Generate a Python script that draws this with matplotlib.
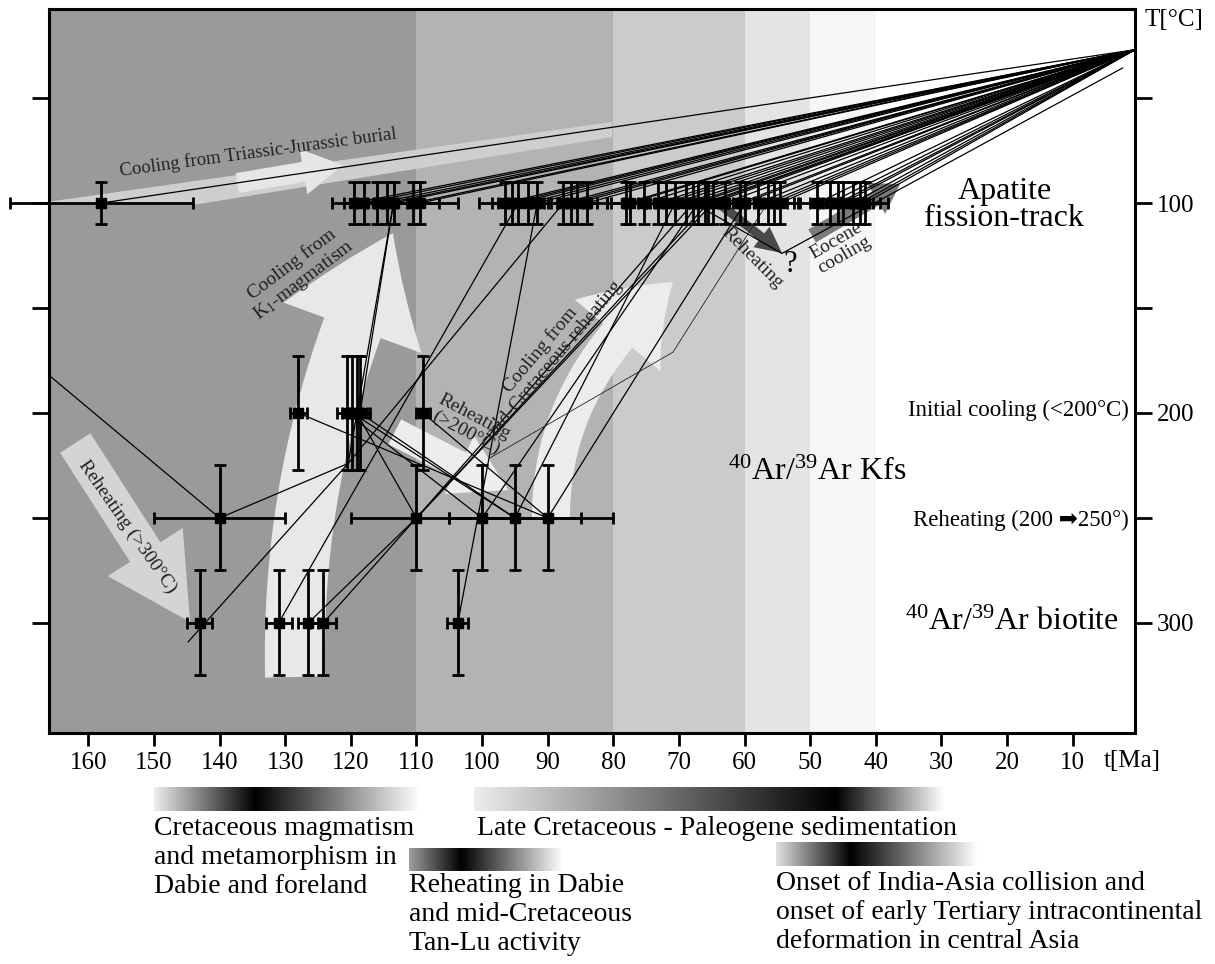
import numpy as np
import matplotlib
matplotlib.use("Agg")
import matplotlib.pyplot as plt
from matplotlib.patches import FancyArrowPatch, ArrowStyle
from matplotlib.path import Path
from matplotlib.colors import LinearSegmentedColormap

plt.rcParams['font.family'] = ['Liberation Serif', 'DejaVu Sans']
plt.rcParams['mathtext.fontset'] = 'custom'
plt.rcParams['mathtext.rm'] = 'Liberation Serif'
plt.rcParams['mathtext.it'] = 'Liberation Serif:italic'

# ---------------- data ----------------
# Apatite fission-track ages (T = 100 C)
aft_age = [158, 119.5, 118.0, 116, 114.5, 113.5, 110.5, 109.5, 96.5, 95.5,
           94.5, 93.0, 91.6, 87.6, 86.5, 85.5, 84.0, 78.0, 77.4, 75.4, 73.2,
           72.0, 70.6, 69.0, 67.8, 67.1, 66.0, 65.5, 64.8, 63.0, 60.7, 60.0,
           58.0, 56.5, 55.5, 54.6, 48.9, 47.0, 45.7, 45.0, 43.5, 42.4, 41.6]
aft_age_err = [14, 3.4, 3, 3, 3, 3, 4, 5.8, 4, 3, 3, 3, 3, 3, 3, 3, 3, 3, 3,
               3, 3, 3, 3, 3, 3, 3, 3, 3, 3, 3, 3, 3, 3, 3, 3, 3, 3, 3, 3, 3,
               3, 3, 3.5]
aft_T = [100] * len(aft_age)
aft_T_err = [10] * len(aft_age)

# 40Ar/39Ar K-feldspar, initial cooling (200 C)
kfs_cool_age = [128, 120.6, 119.8, 119.1, 118.6, 109]
kfs_cool_age_err = [1.3, 1.5, 1.5, 1.5, 1.5, 1.0]
kfs_cool_T = [200] * len(kfs_cool_age)
kfs_cool_T_err = [27] * len(kfs_cool_age)

# 40Ar/39Ar K-feldspar, reheating (250 C)
kfs_reheat_age = [140, 110, 100, 95, 90]
kfs_reheat_age_err = [10, 10, 5, 10, 10]
kfs_reheat_T = [250] * len(kfs_reheat_age)
kfs_reheat_T_err = [25] * len(kfs_reheat_age)

# 40Ar/39Ar biotite (300 C)
bio_age = [143, 131, 126.5, 124.2, 103.7]
bio_age_err = [1.9, 2, 1.5, 2, 1.6]
bio_T = [300] * len(bio_age)
bio_T_err = [25] * len(bio_age)

# present-day surface point where all paths converge
present_age = 0.5
present_T = 27

# thermal history paths (age, T)
paths = [
    [(166, 182), (140, 250), (120.4, 224), (87.6, 100)],
    [(144.8, 309), (120.4, 224), (113.5, 100)],
    [(131, 300), (94.5, 100)],
    [(126.5, 300), (110, 250), (67.8, 100)],
    [(124.2, 300), (110, 250), (65.5, 100)],
    [(103.7, 300), (91.6, 100)],
    [(128, 200), (90, 250)],
    [(119.1, 200), (110, 250), (64.8, 100)],
    [(120.6, 200), (100, 250), (67.1, 100)],
    [(119.8, 200), (95, 250), (70.6, 100)],
    [(118.6, 200), (95, 250)],
    [(109, 200), (90, 250), (60.0, 100)],
    [(118.6, 200), (113.5, 100)],
    [(67.8, 100), (54.3, 124), (2.4, 35.7)],
]
thin_paths = [
    [(98.8, 221.4), (70.9, 171), (56.5, 100)],
]

# background time bands (Ma) and grey levels
band_edges = [(166, 110), (110, 80), (80, 60), (60, 50), (50, 40)]
band_colors = ['#9a9a9a', '#b3b3b3', '#cbcbcb', '#e4e4e4', '#f6f6f6']

xticks = [160, 150, 140, 130, 120, 110, 100, 90, 80, 70, 60, 50, 40, 30, 20, 10]
yticks = [50, 100, 150, 200, 250, 300]
ytick_labels = ['', '100', '', '200', '', '300']

# ---------------- figure ----------------
W, H = 1215, 964
fig = plt.figure(figsize=(W / 100, H / 100), dpi=100)
ax = fig.add_axes([49 / W, (H - 733) / H, 1086 / W, 724 / H])
ax.set_xlim(166, 0.5)
ax.set_ylim(352.4, 7.6)

for (a, b), c in zip(band_edges, band_colors):
    ax.axvspan(b, a, color=c, lw=0, zorder=0)


def pt(px):
    return px * 72 / 100


def arrow(start, end, ctrl=None, tail=20, hw=50, hl=40, color='#e8e8e8', z=1):
    style = ArrowStyle('simple', head_length=pt(hl), head_width=pt(hw),
                       tail_width=pt(tail))
    if ctrl is None:
        ctrl = ((start[0] + end[0]) / 2, (start[1] + end[1]) / 2)
    p = Path([start, ctrl, end], [Path.MOVETO, Path.CURVE3, Path.CURVE3])
    a = FancyArrowPatch(path=p, arrowstyle=style, mutation_scale=1,
                        color=color, lw=0, zorder=z, clip_on=False)
    ax.add_patch(a)


# Triassic-Jurassic strip + arrow
strip_t = [168.6, 80.2, 80.2, 144.2]
strip_T = [100.5, 61.4, 68.6, 101.0]
ax.fill(strip_t, strip_T, color='#cfcfcf', lw=0, zorder=1, clip_on=False)
arrow((137.3, 90.5), (121.2, 81.9), tail=20, hw=46, hl=40, color='#e6e6e6')

# K1 magmatism cooling arrow (curved)
arrow((128.5, 325.7), (113.6, 114.3), ctrl=(129.3, 215.0), tail=60, hw=147,
      hl=103, color='#e8e8e8')
# mid-Cretaceous reheating cooling arrow (curved)
arrow((89.5, 249.5), (70.9, 137.6), ctrl=(89.5, 184.3), tail=38, hw=112,
      hl=77, color='#ececec')
# Reheating >300
arrow((162.0, 214.3), (144.5, 299.5), tail=36, hw=89, hl=83, color='#d4d4d4')
# Reheating >200
arrow((113.3, 209.0), (96.0, 236.7), tail=28, hw=65, hl=55, color='#ededed')
# dark Reheating ? arrow
arrow((64.0, 100.0), (54.3, 123.8), tail=9, hw=26, hl=26, color='#4a4a4a', z=2)
# Eocene cooling arrow
arrow((49.7, 115.7), (36.3, 91.0), tail=15, hw=36, hl=28, color='#7a7a7a', z=2)

# thermal paths
for p in paths:
    ts, Ts = zip(*p)
    ax.plot(ts, Ts, color='black', lw=0.9, zorder=3, clip_on=False)
for p in thin_paths:
    ts, Ts = zip(*p)
    ax.plot(ts, Ts, color='#222222', lw=0.6, zorder=3)
for a in aft_age:
    ax.plot([a, present_age], [100, present_T], color='black', lw=0.9, zorder=3)

# error bars
for ages, aerr, Ts, Terr in [(aft_age, aft_age_err, aft_T, aft_T_err),
                             (kfs_cool_age, kfs_cool_age_err, kfs_cool_T, kfs_cool_T_err),
                             (kfs_reheat_age, kfs_reheat_age_err, kfs_reheat_T, kfs_reheat_T_err),
                             (bio_age, bio_age_err, bio_T, bio_T_err)]:
    cont = ax.errorbar(ages, Ts, xerr=aerr, yerr=Terr, fmt='s', color='black',
                       ms=7, elinewidth=2.0, capsize=4.5, capthick=2.0, zorder=4)
    for ch in cont.get_children():
        ch.set_clip_on(False)

# axes styling
for s in ax.spines.values():
    s.set_linewidth(2.2)
ax.set_xticks(xticks)
ax.set_xticklabels([str(v) for v in xticks])
ax.set_yticks(yticks)
ax.set_yticklabels(ytick_labels)
ax.tick_params(axis='y', left=True, right=True, labelleft=False, labelright=True,
               direction='out', length=12, width=2.0, labelsize=18, pad=4)
ax.tick_params(axis='x', direction='out', length=9, width=2.0, labelsize=18, pad=5)

ax.text(1.009, 0.985, 'T[°C]', transform=ax.transAxes, fontsize=18,
        ha='left', va='center')
ax.text(0.971, -0.039, 't[Ma]', transform=ax.transAxes, fontsize=18,
        ha='left', va='center')

# inside labels
ax.text(20.4, 101, 'Apatite\nfission-track', fontsize=23, ha='center',
        va='center', linespacing=0.9, zorder=5)
ax.text(62.5, 231.9, r'$^{\mathrm{40}}$Ar/$^{\mathrm{39}}$Ar Kfs', fontsize=23,
        ha='left', va='baseline', zorder=5)
ax.text(3.0, 303.3, r'$^{\mathrm{40}}$Ar/$^{\mathrm{39}}$Ar biotite', fontsize=23,
        ha='right', va='baseline', zorder=5)
ax.text(1.5, 198.6, 'Initial cooling (<200°C)', fontsize=16.5, ha='right',
        va='center', zorder=5)
ax.text(1.5, 251, 'Reheating (200 \u27a1250°)', fontsize=16.5, ha='right',
        va='center', zorder=5)

ax.text(134.1, 75.7, 'Cooling from Triassic-Jurassic burial', fontsize=13.5,
        rotation=7.7, ha='center', va='center', color='#222222', zorder=5,
        rotation_mode='anchor')
ax.text(128.0, 133.3, 'Cooling from\nK$_{\\mathrm{1}}$-magmatism', fontsize=14,
        rotation=37, ha='center', va='center', color='#222222', zorder=5,
        rotation_mode='anchor', linespacing=1.0)
ax.text(154.0, 254.3, 'Reheating (>300°C)', fontsize=14, rotation=-55,
        ha='center', va='center', color='#222222', zorder=5, rotation_mode='anchor')
ax.text(101.8, 205.7, 'Reheating\n(>200°C)', fontsize=14, rotation=-28,
        ha='center', va='center', color='#222222', zorder=5,
        rotation_mode='anchor', linespacing=1.0)
ax.text(90.1, 172.4, 'Cooling from\nmid-Cretaceous reheating', fontsize=14,
        rotation=50, ha='center', va='center', color='#222222', zorder=5,
        rotation_mode='anchor', linespacing=1.0)
ax.text(58.8, 126.2, 'Reheating', fontsize=14, rotation=-45, ha='center',
        va='center', color='#222222', zorder=5, rotation_mode='anchor')
ax.text(53.0, 129.5, '?', fontsize=22, ha='center', va='center', zorder=5)
ax.text(45.4, 121.4, 'Eocene\ncooling', fontsize=14, rotation=30, ha='center',
        va='center', color='#222222', zorder=5, rotation_mode='anchor',
        linespacing=1.0)

# ---------------- bottom event bars ----------------
event_bars = [
    # x0, x1, ytop, ybottom (figure px), gradient stops (pos, grey)
    (154, 419, 787, 811, [(0, 0.93), (0.38, 0.0), (1, 1.0)]),
    (474, 945, 787, 811, [(0, 0.93), (0.77, 0.0), (1, 1.0)]),
    (409, 563, 848, 871, [(0, 0.62), (0.34, 0.0), (1, 1.0)]),
    (776, 978, 842, 866, [(0, 0.88), (0.37, 0.0), (1, 1.0)]),
]
for x0, x1, y0, y1, stops in event_bars:
    bax = fig.add_axes([x0 / W, 1 - y1 / H, (x1 - x0) / W, (y1 - y0) / H])
    cm = LinearSegmentedColormap.from_list('g', [(p, (g, g, g)) for p, g in stops])
    bax.imshow(np.linspace(0, 1, 512)[None, :], aspect='auto', cmap=cm,
               vmin=0, vmax=1, interpolation='bilinear')
    bax.axis('off')

event_texts = [
    (154, 816, 'Cretaceous magmatism\nand metamorphism in\nDabie and foreland'),
    (477, 816, 'Late Cretaceous - Paleogene sedimentation'),
    (409, 873, 'Reheating in Dabie\nand mid-Cretaceous\nTan-Lu activity'),
    (776, 871, 'Onset of India-Asia collision and\nonset of early Tertiary intracontinental\ndeformation in central Asia'),
]
for x, y, s in event_texts:
    fig.text(x / W, 1 - y / H, s, fontsize=20, ha='left', va='top',
             linespacing=1.2)

fig.savefig('out.png', dpi=100)
